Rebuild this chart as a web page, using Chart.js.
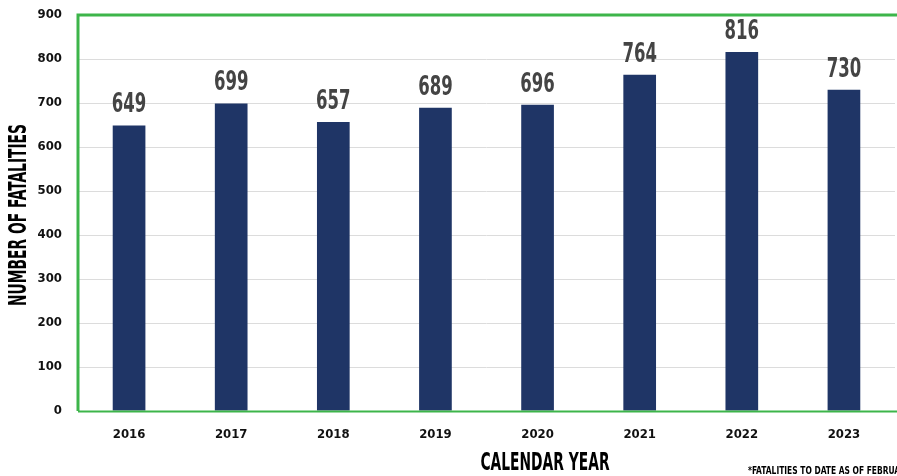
<!DOCTYPE html>
<html><head><meta charset="utf-8">
<script src="https://cdn.jsdelivr.net/npm/chart.js@4"></script>
<style>html,body{margin:0;padding:0;background:#fff;overflow:hidden}#wrap{width:897px;height:476px}</style>
</head><body><div id="wrap"><canvas id="c" width="897" height="476"></canvas></div>
<script>
const years = ['2016','2017','2018','2019','2020','2021','2022','2023'];
const fatalities = [649, 699, 657, 689, 696, 764, 816, 730];
const yTitle = 'NUMBER OF FATALITIES';
const xTitle = 'CALENDAR YEAR';
const footnote = '*FATALITIES TO DATE AS OF FEBRUARY';
const FONT = "'DejaVu Sans Condensed', 'Liberation Sans Narrow', sans-serif";

function narrowText(ctx, text, x, y, sx) {
  ctx.save();
  ctx.translate(x, y);
  ctx.scale(sx, 1);
  ctx.fillText(text, 0, 0);
  ctx.restore();
}

const extras = {
  id: 'extras',
  afterDraw(chart) {
    const ctx = chart.ctx, a = chart.chartArea;
    ctx.save();
    // green frame (left, top, bottom)
    ctx.strokeStyle = '#3db54a';
    ctx.lineWidth = 3;
    ctx.beginPath();
    ctx.moveTo(a.left, a.bottom);
    ctx.lineTo(a.left, a.top);
    ctx.lineTo(chart.width + 5, a.top);
    ctx.stroke();
    ctx.lineWidth = 2;
    ctx.beginPath();
    ctx.moveTo(a.left, a.bottom + 0.5);
    ctx.lineTo(chart.width + 5, a.bottom + 0.5);
    ctx.stroke();
    // value labels
    const meta = chart.getDatasetMeta(0);
    ctx.fillStyle = '#444444';
    ctx.font = 'bold 27px ' + FONT;
    ctx.textAlign = 'center';
    ctx.textBaseline = 'alphabetic';
    meta.data.forEach((bar, i) => {
      narrowText(ctx, String(fatalities[i]), bar.x, bar.y - 13, 0.68);
    });
    // y title
    ctx.fillStyle = '#000';
    ctx.font = 'bold 24px ' + FONT;
    ctx.save();
    ctx.translate(20, 215);
    ctx.rotate(-Math.PI / 2);
    ctx.textBaseline = 'middle';
    narrowText(ctx, yTitle, 0, 0, 0.64);
    ctx.restore();
    // x title
    ctx.font = 'bold 24px ' + FONT;
    ctx.textAlign = 'center';
    ctx.textBaseline = 'middle';
    narrowText(ctx, xTitle, 545, 464, 0.64);
    // footnote
    ctx.font = 'bold 11px ' + FONT;
    ctx.textAlign = 'left';
    ctx.textBaseline = 'alphabetic';
    narrowText(ctx, footnote, 748, 474, 0.76);
    ctx.restore();
  }
};

new Chart(document.getElementById('c'), {
  type: 'bar',
  data: {
    labels: years,
    datasets: [{
      data: fatalities,
      backgroundColor: '#1f3566',
      barPercentage: 0.32,
      categoryPercentage: 1.0
    }]
  },
  options: {
    responsive: false,
    animation: false,
    devicePixelRatio: 1,
    layout: { padding: { top: 15, right: 2, left: 0, bottom: 0 } },
    plugins: { legend: { display: false }, tooltip: { enabled: false } },
    scales: {
      x: {
        grid: { display: false, drawTicks: false },
        border: { display: false },
        ticks: { color: '#111', font: { family: FONT, size: 13, weight: 'bold' }, padding: 16, maxRotation: 0 },
        afterFit(s) { s.height = 65; s.paddingLeft = 0; s.paddingRight = 0; }
      },
      y: {
        min: 0, max: 900,
        grid: { color: '#dcdcdc', drawTicks: false, lineWidth: 1 },
        border: { display: false },
        ticks: { stepSize: 100, color: '#111', font: { family: FONT, size: 13, weight: 'bold' }, padding: 16 },
        afterFit(s) { s.width = 78; s.paddingTop = 0; s.paddingBottom = 0; }
      }
    }
  },
  plugins: [extras]
});
</script></body></html>
